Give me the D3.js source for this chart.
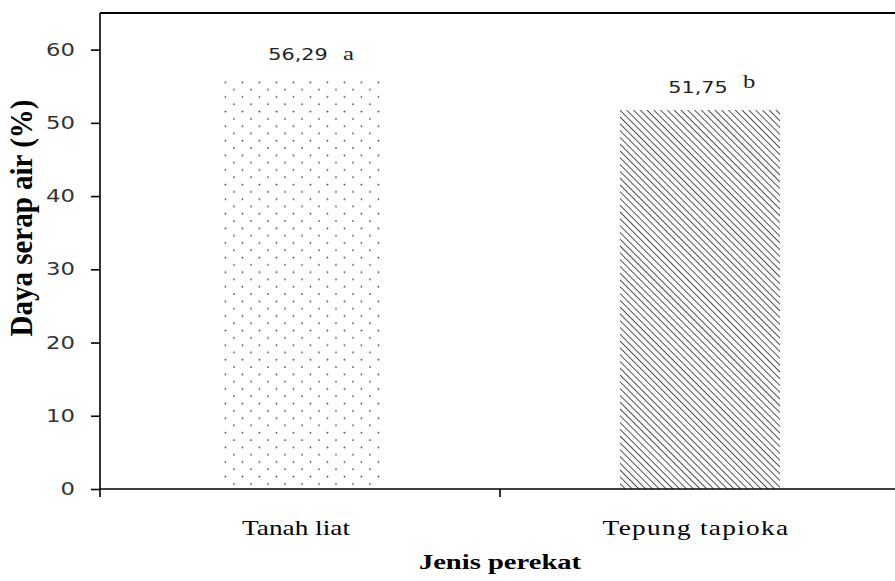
<!DOCTYPE html>
<html><head><meta charset="utf-8">
<script src="https://cdn.jsdelivr.net/npm/d3@7"></script>
<style>body{margin:0;background:#fff}svg{display:block}</style>
</head><body>
<script>
const categories = ["Tanah liat", "Tepung tapioka"];
const values = [56.29, 51.75];
const valueLabels = ["56,29", "51,75"];
const letters = ["a", "b"];
const yTicks = [0, 10, 20, 30, 40, 50, 60];
const patterns = ["dots", "hatch"];

const W = 895, H = 581;
const SX = 1.3; // horizontal stretch of the text in the reference
const m = {left: 100, right: -5, top: 13, bottom: 92};
const svg = d3.select("body").append("svg").attr("width", W).attr("height", H);
const defs = svg.append("defs");

const pd = defs.append("pattern").attr("id", "dots").attr("patternUnits", "userSpaceOnUse")
  .attr("width", 17).attr("height", 14.6).attr("x", 4).attr("y", 0);
pd.append("circle").attr("cx", 9).attr("cy", 2).attr("r", 0.9).attr("fill", "#444");
pd.append("circle").attr("cx", 0.5).attr("cy", 9.3).attr("r", 0.9).attr("fill", "#444");
pd.append("circle").attr("cx", 17.5).attr("cy", 9.3).attr("r", 0.9).attr("fill", "#444");

const ph = defs.append("pattern").attr("id", "hatch").attr("patternUnits", "userSpaceOnUse")
  .attr("width", 4.8).attr("height", 4.8).attr("patternTransform", "rotate(-45)");
ph.append("line").attr("x1", 0).attr("y1", 0).attr("x2", 0).attr("y2", 4.8)
  .attr("stroke", "#333").attr("stroke-width", 1.7);

const x = d3.scaleBand().domain(categories).range([m.left, W - m.right]).paddingInner(0).paddingOuter(0);
const y = d3.scaleLinear().domain([0, 65]).range([H - m.bottom, m.top]);

// frame top
svg.append("line").attr("x1", m.left).attr("x2", W - m.right).attr("y1", m.top).attr("y2", m.top)
  .attr("stroke", "#000").attr("stroke-width", 1.8);

// bars
const bw = x.bandwidth() * 0.4;
svg.selectAll("rect.bar").data(categories).join("rect").attr("class", "bar")
  .attr("x", d => x(d) + (x.bandwidth() - bw) / 2)
  .attr("width", bw)
  .attr("y", (d, i) => y(values[i]))
  .attr("height", (d, i) => y(0) - y(values[i]))
  .attr("fill", (d, i) => `url(#${patterns[i]})`);

// y axis
const ya = svg.append("g").attr("transform", `translate(${m.left},0)`)
  .call(d3.axisLeft(y).tickValues(yTicks).tickSize(9).tickFormat(d3.format("d")));
ya.select(".domain").attr("stroke-width", 1.6).attr("d", `M0,${y(0) + 8}V${m.top}`);
ya.selectAll(".tick line").attr("stroke-width", 1.6);
ya.selectAll(".tick text").attr("x", -25 / SX).attr("transform", `scale(${SX},1)`)
  .attr("font-family", "'DejaVu Sans', Verdana, sans-serif").attr("font-size", 17.5).attr("fill", "#333");

// x axis
const xa = svg.append("g").attr("transform", `translate(0,${y(0)})`)
  .call(d3.axisBottom(x).tickSize(0).tickFormat(() => ""));
xa.select(".domain").attr("stroke-width", 1.6).attr("d", `M${m.left},0H${W - m.right}`);
svg.selectAll("text.cat").data(categories).join("text").attr("class", "cat")
  .attr("transform", d => `translate(${x(d) + x.bandwidth() / 2 - 4},${y(0) + 46}) scale(${SX},1)`)
  .attr("text-anchor", "middle")
  .attr("font-family", "'Liberation Serif', 'Times New Roman', serif").attr("font-size", 21).attr("fill", "#000")
  .attr("letter-spacing", (d, i) => i === 1 ? 1 : 0)
  .text(d => d);
// category boundary ticks
svg.selectAll("line.bt").data(categories.slice(1)).join("line").attr("class", "bt")
  .attr("x1", d => x(d)).attr("x2", d => x(d)).attr("y1", y(0)).attr("y2", y(0) + 8)
  .attr("stroke", "#000").attr("stroke-width", 1.6);

// value labels
svg.selectAll("text.val").data(categories).join("text").attr("class", "val")
  .attr("transform", (d, i) => `translate(${x(d) + x.bandwidth() / 2 - 2},${y(values[i]) - 17}) scale(${SX},1)`)
  .attr("text-anchor", "middle")
  .attr("font-family", "'DejaVu Sans', Verdana, sans-serif").attr("font-size", 16).attr("fill", "#222")
  .text((d, i) => valueLabels[i]);
svg.selectAll("text.let").data(categories).join("text").attr("class", "let")
  .attr("transform", (d, i) => `translate(${x(d) + x.bandwidth() / 2 + 43},${y(values[i]) - 17 - (i === 1 ? 5 : 0)}) scale(${SX},1)`)
  .attr("text-anchor", "start")
  .attr("font-family", "'Liberation Serif', serif").attr("font-size", 19).attr("fill", "#222")
  .text((d, i) => letters[i]);

// axis titles
svg.append("text").attr("transform", `translate(32,218) scale(1.12,1) rotate(-90)`).attr("text-anchor", "middle")
  .attr("font-family", "'Liberation Serif', 'Times New Roman', serif").attr("font-weight", "bold").attr("font-size", 29)
  .text("Daya serap air (%)");
svg.append("text").attr("transform", `translate(500,569) scale(${SX},1)`).attr("text-anchor", "middle")
  .attr("font-family", "'Liberation Serif', 'Times New Roman', serif").attr("font-weight", "bold").attr("font-size", 22)
  .text("Jenis perekat");
</script>
</body></html>
